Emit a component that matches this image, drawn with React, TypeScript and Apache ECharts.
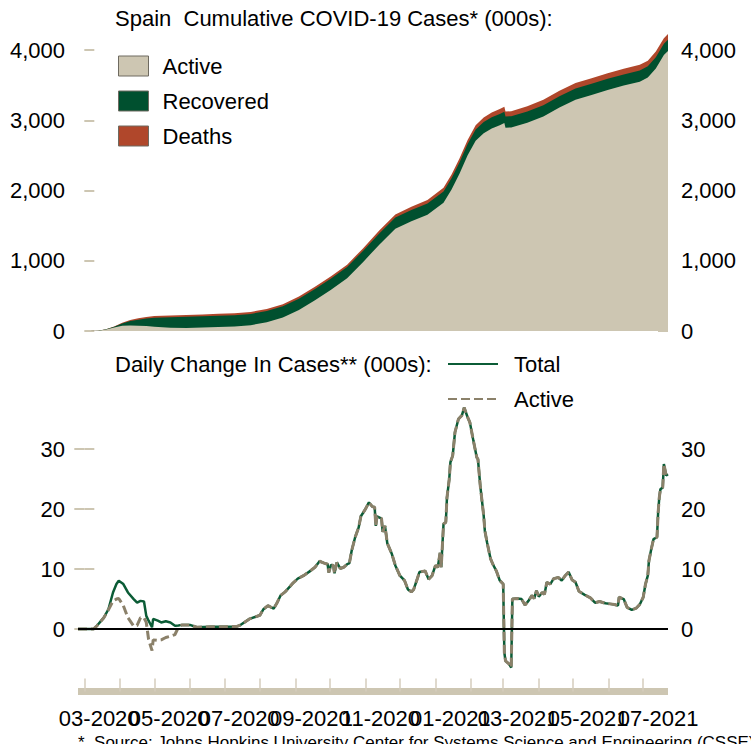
import React, { useEffect, useRef } from 'react';
import * as echarts from 'echarts';

// x values are days since 2020-03-01
const cumDays = [-5.5, 5, 12, 19, 26, 33, 40, 47, 54, 61, 75, 89, 103, 117, 131, 145, 159, 173, 187, 201, 215, 229, 243, 257, 271, 285, 299, 313, 320, 327, 334, 341, 348, 355, 362, 366, 367, 372, 386, 400, 414, 428, 442, 456, 470, 484, 491, 498, 505, 508.6];
const cumActive = [0, 0.4, 4.4, 22.5, 50, 75, 80, 75.5, 69.5, 62.2, 44.7, 41.9, 48.8, 55.7, 65.6, 83.6, 123.5, 193.2, 300.8, 439.6, 587.9, 751.2, 984.1, 1229.2, 1455.6, 1562.4, 1655.2, 1828.1, 2016.7, 2244.6, 2501.7, 2708.6, 2815.8, 2883.7, 2931.2, 2962.5, 2895.4, 2898.9, 2966.5, 3056.2, 3182.9, 3291.6, 3360.7, 3432.1, 3494.4, 3549.1, 3609, 3739, 3928.9, 3988.8];
const cumRecovered = [0, 0, 0.5, 1.5, 10, 32, 62, 85, 108, 125, 150, 160, 160, 160, 160, 160, 160, 160, 160, 160, 160, 160, 160, 160, 160, 160, 160, 160, 160, 160, 160, 160, 160, 160, 160, 160, 160, 160, 160, 160, 160, 160, 160, 160, 160, 160, 160, 160, 160, 160];
const cumDeaths = [0, 0, 0.1, 1, 5, 11, 16, 19.5, 22.5, 24.8, 27.3, 27.1, 27.2, 28.3, 28.4, 28.4, 28.5, 28.8, 29.2, 30.4, 32.1, 33.8, 35.9, 40.8, 44.4, 47.6, 49.8, 51.9, 53.3, 55.4, 58.3, 61.4, 64.2, 66.3, 68.8, 69.5, 69.6, 71.1, 73.5, 75.8, 77.1, 78.4, 79.3, 79.9, 80.6, 80.9, 81.0, 81.0, 81.1, 81.2];

const dailyDays = [-5.5, 8, 11, 17, 21, 25, 28, 30, 34, 38, 43, 46, 49, 52, 54, 56, 59, 60, 64, 67, 71, 75, 79, 82, 85, 92, 98, 110, 123, 133, 136, 144, 153, 156, 160, 165, 168, 171, 175, 182, 186, 191, 197, 201, 205, 209, 212, 213, 215, 217, 218, 220, 223, 226, 229, 231, 233, 236, 239, 241, 245, 248, 251, 253, 254, 255, 259, 260, 262, 264, 268, 271, 275, 279, 282, 285, 287, 290, 292, 297, 300, 303, 306, 308, 310, 311, 313, 315, 316, 318, 319, 321, 323, 326, 329, 331, 334, 336, 339, 342, 343, 345, 348, 349, 351, 354, 356, 359, 362, 365, 366, 367, 370, 372, 373, 377, 381, 384, 387, 390, 392, 394, 396, 399, 401, 403, 406, 409, 413, 416, 419, 422, 425, 428, 431, 436, 441, 445, 449, 454, 458, 462, 465, 466, 470, 473, 477, 481, 484, 487, 489, 491, 492, 494, 496, 499, 500, 501, 502, 504, 505, 507, 508.6];
const dailyTotal = [0, 0, 0.55, 1.9, 3.3, 6.1, 7.5, 8.05, 7.5, 6.1, 5.0, 4.4, 4.7, 4.6, 2.2, 1.4, 0.3, 1.7, 1.4, 1.1, 1.3, 1.1, 0.55, 0.6, 0.7, 0.7, 0.3, 0.4, 0.4, 0.45, 0.67, 1.7, 2.3, 3.3, 3.9, 3.4, 4.4, 5.6, 6.2, 7.7, 8.4, 8.9, 9.7, 10.3, 11.3, 11.0, 10.8, 9.4, 10.7, 10.6, 9.3, 11.1, 10.1, 10.3, 10.8, 11.0, 13.1, 15.3, 16.9, 18.8, 20.0, 21.1, 20.4, 20.3, 17.2, 18.8, 18.4, 16.2, 17.2, 14.3, 12.5, 10.6, 8.9, 8.1, 6.6, 6.2, 6.6, 8.3, 9.5, 9.7, 8.3, 8.9, 10.6, 10.3, 12.7, 10.3, 17.5, 17.8, 21.9, 25.0, 27.8, 28.9, 32.8, 35.0, 35.6, 36.9, 35.3, 34.4, 31.4, 28.6, 28.3, 23.9, 18.9, 16.4, 14.4, 11.7, 10.8, 9.7, 8.1, 7.5, -3.9, -5.3, -5.8, -6.4, 5.0, 5.1, 5.0, 4.0, 4.7, 5.6, 5.1, 6.4, 5.4, 6.1, 5.8, 7.8, 7.5, 8.4, 8.6, 8.1, 8.9, 9.5, 8.2, 7.8, 6.3, 5.7, 5.2, 4.4, 4.6, 4.3, 4.2, 4.1, 3.9, 5.3, 5.0, 3.6, 3.2, 3.5, 4.1, 5.3, 7.5, 8.9, 11.4, 13.3, 15.0, 15.3, 19.4, 21.9, 23.3, 23.6, 27.5, 25.6, 25.8];
const dailyActive = [0, 0, 0.55, 1.9, 3.2, 4.7, 5.0, 5.1, 3.9, 1.9, 0.5, 0.6, 1.9, 1.9, 1.1, -1.7, -3.6, -1.8, -1.9, -1.8, -1.4, -1.2, -0.9, 0.3, 0.7, 0.7, 0.3, 0.4, 0.4, 0.45, 0.67, 1.7, 2.3, 3.3, 3.9, 3.4, 4.4, 5.6, 6.2, 7.7, 8.4, 8.9, 9.7, 10.3, 11.3, 11.0, 10.8, 9.4, 10.7, 10.6, 9.3, 11.1, 10.1, 10.3, 10.8, 11.0, 13.1, 15.3, 16.9, 18.8, 20.0, 21.1, 20.4, 20.3, 17.2, 18.8, 18.4, 16.2, 17.2, 14.3, 12.5, 10.6, 8.9, 8.1, 6.6, 6.2, 6.6, 8.3, 9.5, 9.7, 8.3, 8.9, 10.6, 10.3, 12.7, 10.3, 17.5, 17.8, 21.9, 25.0, 27.8, 28.9, 32.8, 35.0, 35.6, 36.9, 35.3, 34.4, 31.4, 28.6, 28.3, 23.9, 18.9, 16.4, 14.4, 11.7, 10.8, 9.7, 8.1, 7.5, -3.9, -5.3, -5.8, -6.4, 5.0, 5.1, 5.0, 4.0, 4.7, 5.6, 5.1, 6.4, 5.4, 6.1, 5.8, 7.8, 7.5, 8.4, 8.6, 8.1, 8.9, 9.5, 8.2, 7.8, 6.3, 5.7, 5.2, 4.4, 4.6, 4.3, 4.2, 4.1, 3.9, 5.3, 5.0, 3.6, 3.2, 3.5, 4.1, 5.3, 7.5, 8.9, 11.4, 13.3, 15.0, 15.3, 19.4, 21.9, 23.3, 23.6, 27.5, 25.6, 25.8];

const monthTickDays = [0, 31, 61, 92, 122, 153, 184, 214, 245, 275, 306, 337, 365, 396, 426, 457, 487];
const monthLabelDays = [13, 74, 135, 197, 258, 319, 378, 439, 500];
const monthLabels = ['03-2020', '05-2020', '07-2020', '09-2020', '11-2020', '01-2021', '03-2021', '05-2021', '07-2021'];
const cumTicks = [0, 1000, 2000, 3000, 4000];
const dailyTicks = [0, 10, 20, 30];

const FONT = '"Liberation Sans", Arial, Helvetica, sans-serif';
const TAN = '#cdc6b2';
const GREEN_AREA = '#00502f';
const RUST = '#b0472b';
const GREEN_LINE = '#0b5c36';
const KHAKI = '#8b816a';
const TICK = '#d4cdbc';

const X_MIN = -5.5;
const X_MAX = 508.6;

function yAxisDef(grid: number, pos: 'left' | 'right', min: number, max: number, ticks: number[], fmt: (v: number) => string) {
  return {
    type: 'value',
    gridIndex: grid,
    position: pos,
    min,
    max,
    axisLine: { show: false },
    splitLine: { show: false },
    axisTick: { show: true, inside: true, length: 10, lineStyle: { color: TAN, width: 2 }, customValues: ticks },
    axisLabel: {
      customValues: ticks,
      formatter: (v: number) => fmt(v),
      margin: 13,
      fontSize: 22,
      color: '#000',
      fontFamily: FONT,
      showMinLabel: true,
      showMaxLabel: true,
    },
  };
}

const fmtThousands = (v: number) => new Intl.NumberFormat('en-US').format(v);
const fmtPlain = (v: number) => String(v);
const monthLabelFor = (v: number) => {
  const i = monthLabelDays.indexOf(v);
  return i >= 0 ? monthLabels[i] : '';
};

export default function App() {
  const ref = useRef<HTMLDivElement>(null);
  useEffect(() => {
    document.body.style.margin = '0';
    document.body.style.overflow = 'hidden';
    const chart = echarts.init(ref.current!, null, { renderer: 'svg' });
    const textBase = { fontSize: 22, fontWeight: 'normal', color: '#000', fontFamily: FONT };

    // stacked tops built from the three read series
    const topRecovered = cumActive.map((a, i) => a + cumRecovered[i]);
    const topDeaths = topRecovered.map((a, i) => a + cumDeaths[i]);

    // labels split over two overlaid axes so neighbouring labels are never auto-hidden
    const labelsA = monthLabelDays.filter((_, i) => i % 2 === 0);
    const labelsB = monthLabelDays.filter((_, i) => i % 2 === 1);

    const areaSeries = (name: string, vals: number[], color: string) => ({
      name,
      type: 'line',
      xAxisIndex: 0,
      yAxisIndex: 0,
      symbol: 'none',
      data: cumDays.map((d, i) => [d, vals[i]]),
      lineStyle: { width: 0 },
      itemStyle: { color },
      areaStyle: { color, opacity: 1 },
    });

    const labelStyle = {
      showMinLabel: true,
      showMaxLabel: true,
      hideOverlap: false,
      formatter: monthLabelFor,
      margin: 16,
      fontSize: 22,
      color: '#000',
      fontFamily: FONT,
    };

    const option: any = {
      animation: false,
      backgroundColor: '#ffffff',
      title: [
        { text: 'Spain  Cumulative COVID-19 Cases* (000s):', left: 115, top: 7, padding: 0, textStyle: textBase },
        { text: 'Daily Change In Cases** (000s):', left: 115, top: 353, padding: 0, textStyle: textBase },
        {
          text: '*  Source: Johns Hopkins University Center for Systems Science and Engineering (CSSE)',
          left: 78,
          top: 734,
          padding: 0,
          textStyle: { ...textBase, fontSize: 17 },
        },
      ],
      legend: [
        {
          data: ['Active', 'Recovered', 'Deaths'],
          orient: 'vertical',
          left: 118,
          top: 55,
          padding: 0,
          icon: 'rect',
          itemWidth: 30,
          itemHeight: 20,
          itemGap: 13,
          selectedMode: false,
          itemStyle: { borderColor: '#6e6a60', borderWidth: 1 },
          textStyle: { fontSize: 22, color: '#000', fontFamily: FONT, padding: [0, 0, 0, 9], lineHeight: 22 },
        },
        {
          data: ['Total', 'Active daily'],
          orient: 'vertical',
          left: 447,
          top: 353,
          padding: 0,
          itemWidth: 50,
          itemHeight: 22,
          itemGap: 13,
          selectedMode: false,
          itemStyle: { opacity: 0 },
          formatter: (n: string) => (n === 'Active daily' ? 'Active' : n),
          textStyle: { fontSize: 22, color: '#000', fontFamily: FONT, padding: [0, 0, 0, 11], lineHeight: 22 },
        },
      ],
      grid: [
        { left: 78, right: 83, top: 15, height: 316 },
        { left: 78, right: 83, top: 389, height: 302.5 },
      ],
      xAxis: [
        { type: 'value', gridIndex: 0, min: X_MIN, max: X_MAX, show: false },
        {
          type: 'value',
          gridIndex: 1,
          position: 'bottom',
          offset: 0,
          min: X_MIN,
          max: X_MAX,
          splitLine: { show: false },
          axisLine: { show: true, onZero: false, lineStyle: { color: TAN, width: 7, cap: 'butt' } },
          axisTick: { show: true, inside: true, length: 13, lineStyle: { color: TICK, width: 1.5 }, customValues: monthTickDays },
          axisLabel: { ...labelStyle, customValues: labelsA },
        },
        {
          type: 'value',
          gridIndex: 1,
          position: 'bottom',
          offset: 0,
          min: X_MIN,
          max: X_MAX,
          splitLine: { show: false },
          axisLine: { show: false, onZero: false },
          axisTick: { show: false },
          axisLabel: { ...labelStyle, customValues: labelsB },
        },
      ],
      yAxis: [
        yAxisDef(0, 'left', 0, 4500, cumTicks, fmtThousands),
        yAxisDef(0, 'right', 0, 4500, cumTicks, fmtThousands),
        yAxisDef(1, 'left', -10.4, 40, dailyTicks, fmtPlain),
        yAxisDef(1, 'right', -10.4, 40, dailyTicks, fmtPlain),
      ],
      series: [
        areaSeries('Deaths', topDeaths, RUST),
        areaSeries('Recovered', topRecovered, GREEN_AREA),
        areaSeries('Active', cumActive, TAN),
        {
          name: 'Total',
          type: 'line',
          xAxisIndex: 1,
          yAxisIndex: 2,
          symbol: 'none',
          data: dailyDays.map((d, i) => [d, dailyTotal[i]]),
          lineStyle: { color: GREEN_LINE, width: 2.5 },
          itemStyle: { color: GREEN_LINE },
          markLine: {
            silent: true,
            symbol: ['none', 'none'],
            label: { show: false },
            lineStyle: { color: '#000', width: 2, type: 'solid' },
            data: [{ yAxis: 0 }],
          },
        },
        {
          name: 'Active daily',
          type: 'line',
          xAxisIndex: 1,
          yAxisIndex: 2,
          symbol: 'none',
          data: dailyDays.map((d, i) => [d, dailyActive[i]]),
          lineStyle: { color: KHAKI, width: 3, type: [9, 4] },
          itemStyle: { color: KHAKI },
        },
      ],
    };
    chart.setOption(option);
    return () => chart.dispose();
  }, []);
  return <div ref={ref} style={{ width: 751, height: 744 }} />;
}
